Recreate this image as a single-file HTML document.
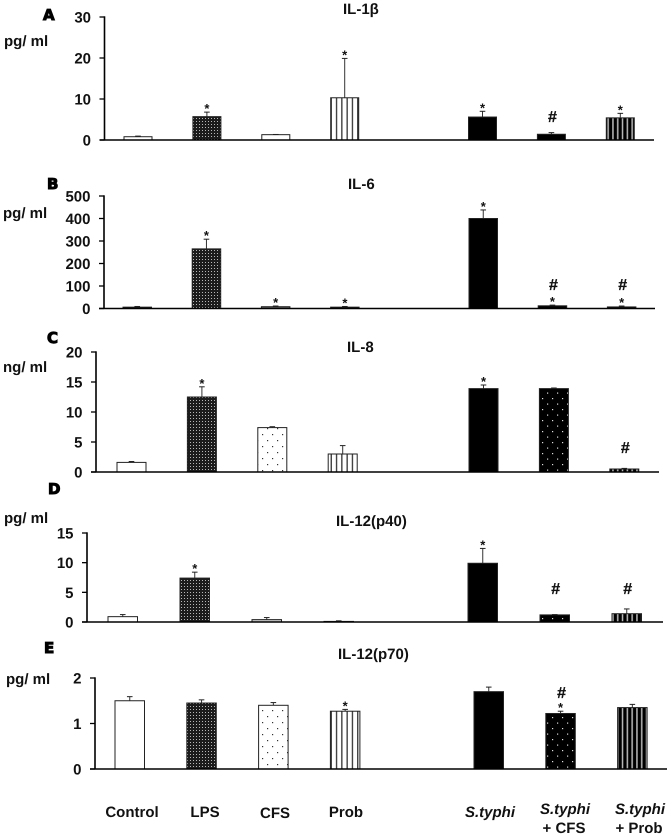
<!DOCTYPE html>
<html>
<head>
<meta charset="utf-8">
<title>Cytokine bar charts</title>
<style>
html,body{margin:0;padding:0;background:#fff;width:670px;height:836px;overflow:hidden}
svg{display:block;filter:blur(.3px);text-rendering:geometricPrecision}
text{font-family:"Liberation Sans",Arial,sans-serif;font-weight:bold;fill:#111}
.letter{font-family:"DejaVu Sans",sans-serif;font-size:15px;stroke:#000;stroke-width:1px;fill:#000}
.cat{font-size:15px;text-anchor:middle}
.it{font-style:italic}
</style>
</head>
<body>
<svg id="chart" xmlns="http://www.w3.org/2000/svg" width="670" height="836" viewBox="0 0 670 836">
  <defs>
    <pattern id="p-dense" width="3" height="3" patternUnits="userSpaceOnUse">
      <rect width="3" height="3" fill="#1c1c1c"/><rect x="1" y="1" width="1" height="1" fill="#b8b8b8"/>
    </pattern>
    <pattern id="p-dots" width="10" height="12" patternUnits="userSpaceOnUse">
      <rect width="10" height="12" fill="#fff"/><rect x="2" y="2" width="1.2" height="1.2" fill="#333"/><rect x="7" y="8" width="1.2" height="1.2" fill="#333"/>
    </pattern>
    <pattern id="p-stripes" width="5.3" height="4" patternUnits="userSpaceOnUse">
      <rect width="5.3" height="4" fill="#fff"/><rect x="2" width="1.3" height="4" fill="#333"/>
    </pattern>
    <pattern id="p-black-dots" width="10" height="11" patternUnits="userSpaceOnUse">
      <rect width="10" height="11" fill="#000"/><rect x="2" y="2" width="1.2" height="1.2" fill="#ddd"/><rect x="7" y="7.5" width="1.2" height="1.2" fill="#ddd"/>
    </pattern>
    <pattern id="p-black-stripes" width="4.8" height="4" patternUnits="userSpaceOnUse">
      <rect width="4.8" height="4" fill="#000"/><rect x="2.6" width="1.5" height="4" fill="#bbb"/>
    </pattern>
  </defs>

  <text class="cat" x="132" y="817">Control</text>
  <text class="cat" x="205" y="817">LPS</text>
  <text class="cat" x="275" y="818">CFS</text>
  <text class="cat" x="346" y="817">Prob</text>
  <text class="cat it" x="490" y="817">S.typhi</text>
  <text class="cat it" x="565" y="814">S.typhi</text>
  <text class="cat" x="564" y="833">+ CFS</text>
  <text class="cat it" x="640" y="814">S.typhi</text>
  <text class="cat" x="639" y="833">+ Prob</text>
</svg>

<script>
// Categories (slot 4 is the empty gap between the two groups)
const categories = ["Control", "LPS", "CFS", "Prob", "", "S.typhi", "S.typhi + CFS", "S.typhi + Prob"];

// IL-1beta
const il1bTicks = [0, 10, 20, 30];
const il1bValues = [0.8, 5.7, 1.3, 10.3, null, 5.6, 1.4, 5.4];
const il1bErrorTops = [0.95, 6.8, 1.35, 19.9, null, 7.0, 1.8, 6.5];
const il1bStars = ["LPS", "Prob", "S.typhi", "S.typhi + Prob"];
const il1bHashes = ["S.typhi + CFS"];

// IL-6
const il6Ticks = [0, 100, 200, 300, 400, 500];
const il6Values = [6, 265, 8, 6, null, 400, 12, 7];
const il6ErrorTops = [9, 308, 11, 9, null, 438, 15, 11];
const il6Stars = ["LPS", "CFS", "Prob", "S.typhi", "S.typhi + CFS", "S.typhi + Prob"];
const il6Hashes = ["S.typhi + CFS", "S.typhi + Prob"];

// IL-8
const il8Ticks = [0, 5, 10, 15, 20];
const il8Values = [1.6, 12.5, 7.4, 3.0, null, 13.9, 13.9, 0.5];
const il8ErrorTops = [1.75, 14.2, 7.55, 4.4, null, 14.5, 14.0, 0.6];
const il8Stars = ["LPS", "S.typhi"];
const il8Hashes = ["S.typhi + Prob"];

// IL-12(p40)
const p40Ticks = [0, 5, 10, 15];
const p40Values = [0.9, 7.4, 0.4, 0.1, null, 9.9, 1.2, 1.4];
const p40ErrorTops = [1.25, 8.4, 0.75, 0.2, null, 12.4, 1.25, 2.2];
const p40Stars = ["LPS", "S.typhi"];
const p40Hashes = ["S.typhi + CFS", "S.typhi + Prob"];

// IL-12(p70)
const p70Ticks = [0, 1, 2];
const p70Values = [1.5, 1.45, 1.4, 1.27, null, 1.7, 1.22, 1.35];
const p70ErrorTops = [1.59, 1.52, 1.46, 1.31, null, 1.8, 1.27, 1.42];
const p70Stars = ["Prob", "S.typhi + CFS"];
const p70Hashes = ["S.typhi + CFS"];

// Fills per category slot
const fillsByPanel = {
  A: ["#fff", "url(#p-dense)", "#fff", "url(#p-stripes)", "", "#000", "#000", "url(#p-black-stripes)"],
  B: ["#000", "url(#p-dense)", "#666", "#000", "", "#000", "#000", "#000"],
  C: ["#fff", "url(#p-dense)", "url(#p-dots)", "url(#p-stripes)", "", "#000", "url(#p-black-dots)", "url(#p-black-stripes)"],
  D: ["#fff", "url(#p-dense)", "#ccc", "#000", "", "#000", "url(#p-black-dots)", "url(#p-black-stripes)"],
  E: ["#fff", "url(#p-dense)", "url(#p-dots)", "url(#p-stripes)", "", "#000", "url(#p-black-dots)", "url(#p-black-stripes)"]
};

// Panel layout (geometry only)
const panels = [
  {key:"A", slug:"il-1b", title:"IL-1β", unit:"pg/ ml", ticks:il1bTicks, values:il1bValues, tops:il1bErrorTops, stars:il1bStars, hashes:il1bHashes,
   axisX:104.5, yTop:17, yZero:140, xEnd:654, left:124, step:68.9, barW:28, hashY:116,
   titleX:343, titleY:14, unitX:4, unitY:46, letterX:43, letterY:20},
  {key:"B", slug:"il-6", title:"IL-6", unit:"pg/ ml", ticks:il6Ticks, values:il6Values, tops:il6ErrorTops, stars:il6Stars, hashes:il6Hashes,
   axisX:104, yTop:196, yZero:308.5, xEnd:655, left:123, step:69.2, barW:28.5, hashY:284,
   titleX:348, titleY:189, unitX:3, unitY:218, letterX:47, letterY:189},
  {key:"C", slug:"il-8", title:"IL-8", unit:"ng/ ml", ticks:il8Ticks, values:il8Values, tops:il8ErrorTops, stars:il8Stars, hashes:il8Hashes,
   axisX:96, yTop:352, yZero:472, xEnd:659, left:117, step:70.4, barW:29, hashY:447,
   titleX:347, titleY:352, unitX:3, unitY:372, letterX:47, letterY:343},
  {key:"D", slug:"il-12-p40", title:"IL-12(p40)", unit:"pg/ ml", ticks:p40Ticks, values:p40Values, tops:p40ErrorTops, stars:p40Stars, hashes:p40Hashes,
   axisX:87, yTop:533, yZero:622, xEnd:663, left:108, step:72, barW:29.5, hashY:588,
   titleX:336, titleY:526, unitX:4, unitY:523, letterX:48, letterY:494},
  {key:"E", slug:"il-12-p70", title:"IL-12(p70)", unit:"pg/ ml", ticks:p70Ticks, values:p70Values, tops:p70ErrorTops, stars:p70Stars, hashes:p70Hashes,
   axisX:95, yTop:678, yZero:769, xEnd:667, left:115, step:71.8, barW:29.5, hashY:692,
   titleX:338, titleY:659, unitX:6, unitY:684, letterX:44, letterY:653}
];

const svg = document.getElementById("chart");
const NS = "http://www.w3.org/2000/svg";

function make(parent, tag, attrs, content) {
  const el = document.createElementNS(NS, tag);
  for (const k in attrs) el.setAttribute(k, attrs[k]);
  if (content !== undefined) el.textContent = content;
  parent.appendChild(el);
  return el;
}

function slugOf(name) {
  return name.toLowerCase().replace(/[^a-z0-9]+/g, "-");
}

panels.forEach(function (p) {
  const maxTick = p.ticks[p.ticks.length - 1];
  const yScale = function (v) { return p.yZero - (v / maxTick) * (p.yZero - p.yTop); };
  const xScale = function (i) { return p.left + i * p.step; };

  const g = make(svg, "g", {});
  
  

  const letter = make(g, "text", {class:"letter", x:p.letterX, y:p.letterY}, p.key);
  
  

  const title = make(g, "text", {x:p.titleX, y:p.titleY, "font-size":"15"}, p.title);
  
  

  const unit = make(g, "text", {x:p.unitX, y:p.unitY, "font-size":"15"}, p.unit);
  
  

  // bars and error bars
  categories.forEach(function (cat, i) {
    const v = p.values[i];
    if (v === null || v === undefined) return;
    const x = xScale(i), cx = x + p.barW / 2;
    const top = yScale(v), errTop = yScale(p.tops[i]);

    const err = make(g, "line", {x1:cx, x2:cx, y1:top, y2:errTop, stroke:"#333", "stroke-width":"1"});
    
    

    const cap = make(g, "line", {x1:cx - 2.8, x2:cx + 2.8, y1:errTop, y2:errTop, stroke:"#222", "stroke-width":"1"});
    
    

    const bar = make(g, "rect", {x:x, y:top, width:p.barW, height:Math.max(p.yZero - top, 0), fill:fillsByPanel[p.key][i], stroke:"#222", "stroke-width":"1"});
    
    

    if (p.stars.indexOf(cat) >= 0) {
      const s = make(g, "text", {x:cx, y:errTop + 1, "text-anchor":"middle", "font-size":"13"}, "*");
      
      
    }
    if (p.hashes.indexOf(cat) >= 0) {
      const hy = Math.min(p.hashY, errTop - 15);
      const h = make(g, "text", {x:cx + 1, y:hy + 6, "text-anchor":"middle", "font-size":"16", stroke:"#111", "stroke-width":".3"}, "#");
      
      
    }
  });

  // axes
  const yAxis = make(g, "line", {x1:p.axisX, x2:p.axisX, y1:p.yTop - .7, y2:p.yZero, stroke:"#000", "stroke-width":"1.6"});
  
  

  const xAxis = make(g, "line", {x1:p.axisX - 5, x2:p.xEnd, y1:p.yZero, y2:p.yZero, stroke:"#000", "stroke-width":"1.5"});
  
  

  p.ticks.forEach(function (t) {
    const y = yScale(t);
    const tick = make(g, "line", {x1:p.axisX - 5, x2:p.axisX, y1:y, y2:y, stroke:"#000", "stroke-width":"1.3"});
    
    

    const label = make(g, "text", {x:p.axisX - 13.5, y:y + 5.5, "text-anchor":"end", "font-size":"15"}, String(t));
    
    
  });
});
</script>
</body>
</html>
